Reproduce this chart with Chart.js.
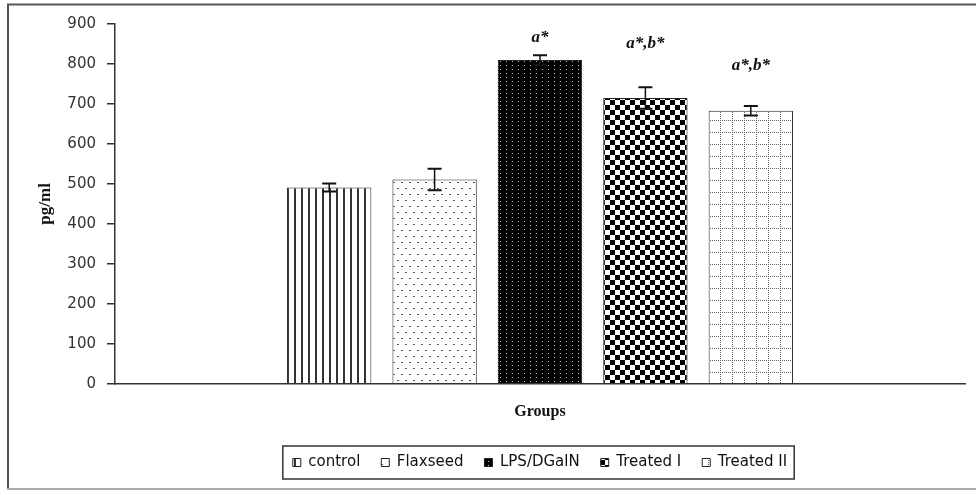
<!DOCTYPE html>
<html>
<head>
<meta charset="utf-8">
<script src="https://cdn.jsdelivr.net/npm/chart.js@4.4.1/dist/chart.umd.min.js"></script>
<style>
  body { margin: 0; background: #fff; }
  #wrap { width: 976px; height: 491px; }
</style>
</head>
<body>
<div id="wrap"><canvas id="chart" width="976" height="491"></canvas></div>
<script>
// data
const groups = ["control", "Flaxseed", "LPS/DGalN", "Treated I", "Treated II"];
const values = [491, 511, 810, 715, 683];
const errors = [10, 27, 12, 27, 12];
const marks = ["", "", "a*", "a*,b*", "a*,b*"];
const markAt = [null, null, 865, 850, 795];
const yTicks = [0, 100, 200, 300, 400, 500, 600, 700, 800, 900];

// fill patterns, one per group
function makePattern(w, h, paint) {
    const c = document.createElement("canvas");
    c.width = w;
    c.height = h;
    const g = c.getContext("2d");
    paint(g, w, h);
    return g.createPattern(c, "repeat");
}

const patterns = [
    // vertical stripes
    makePattern(7, 4, (g) => {
        g.fillStyle = "#fff"; g.fillRect(0, 0, 7, 4);
        g.fillStyle = "#333"; g.fillRect(0, 0, 2, 4);
    }),
    // sparse dots
    makePattern(8, 12, (g) => {
        g.fillStyle = "#fff"; g.fillRect(0, 0, 8, 12);
        g.fillStyle = "#555"; g.fillRect(1, 2, 2, 1); g.fillRect(5, 8, 2, 1);
    }),
    // black with light dots
    makePattern(6, 4, (g) => {
        g.fillStyle = "#000"; g.fillRect(0, 0, 6, 4);
        g.fillStyle = "#bbb"; g.fillRect(2, 1, 1, 1);
    }),
    // checkerboard
    makePattern(10, 10, (g) => {
        g.fillStyle = "#fff"; g.fillRect(0, 0, 10, 10);
        g.fillStyle = "#000"; g.fillRect(0, 0, 5, 5); g.fillRect(5, 5, 5, 5);
    }),
    // dotted grid
    makePattern(12, 12, (g) => {
        g.fillStyle = "#fff"; g.fillRect(0, 0, 12, 12);
        g.fillStyle = "#666";
        for (let i = 0; i < 12; i += 2) {
            g.fillRect(0, i, 1, 1);
            g.fillRect(i, 0, 1, 1);
        }
    })
];

const frame = {
    id: "frame",
    beforeDraw(chart) {
        const ctx = chart.ctx;
        ctx.save();
        ctx.fillStyle = "#fff";
        ctx.fillRect(0, 0, chart.width, chart.height);
        ctx.lineWidth = 2;
        ctx.strokeStyle = "#555";
        ctx.beginPath();
        ctx.moveTo(976, 4.5); ctx.lineTo(8, 4.5); ctx.lineTo(8, 489);
        ctx.stroke();
        ctx.strokeStyle = "#aaa";
        ctx.beginPath();
        ctx.moveTo(7, 489); ctx.lineTo(976, 489);
        ctx.stroke();
        ctx.restore();
    },
    afterDraw(chart) {
        // box round the legend items
        const boxes = chart.legend.legendHitBoxes;
        if (!boxes || !boxes.length) return;
        const left = Math.min(...boxes.map(b => b.left));
        const right = Math.max(...boxes.map(b => b.left + b.width));
        const top = Math.min(...boxes.map(b => b.top));
        const bottom = Math.max(...boxes.map(b => b.top + b.height));
        const ctx = chart.ctx;
        ctx.save();
        ctx.strokeStyle = "#333";
        ctx.lineWidth = 1.5;
        ctx.strokeRect(left - 10, top - 9, right - left + 17, bottom - top + 18);
        ctx.restore();
    }
};

const errorBars = {
    id: "errorBars",
    afterDatasetsDraw(chart) {
        const ctx = chart.ctx;
        const y = chart.scales.y;
        ctx.save();
        ctx.strokeStyle = "#111";
        values.forEach((v, i) => {
            const bar = chart.getDatasetMeta(i).data[0];
            const x = bar.x;
            const hi = y.getPixelForValue(v + errors[i]);
            const lo = y.getPixelForValue(v - errors[i]);
            ctx.lineWidth = 1.5;
            ctx.beginPath();
            ctx.moveTo(x, hi); ctx.lineTo(x, lo);
            ctx.stroke();
            ctx.lineWidth = 2;
            ctx.beginPath();
            ctx.moveTo(x - 7, hi); ctx.lineTo(x + 7, hi);
            ctx.moveTo(x - 7, lo); ctx.lineTo(x + 7, lo);
            ctx.stroke();
            if (marks[i]) {
                ctx.fillStyle = "#111";
                ctx.font = 'bold italic 17px "Liberation Serif"';
                ctx.textAlign = "center";
                ctx.textBaseline = "middle";
                ctx.fillText(marks[i], x, y.getPixelForValue(markAt[i]));
            }
        });
        ctx.restore();
    }
};

new Chart(document.getElementById("chart"), {
    type: "bar",
    data: {
        labels: [""],
        datasets: groups.map((name, i) => ({
            label: name,
            data: [values[i]],
            backgroundColor: patterns[i],
            borderColor: "#222",
            borderWidth: 1,
            categoryPercentage: 0.62,
            barPercentage: 0.8
        }))
    },
    options: {
        responsive: false,
        animation: false,
        layout: { padding: { top: 24, right: 11, left: 33, bottom: 11 } },
        plugins: {
            tooltip: { enabled: false },
            legend: {
                position: "bottom",
                fullSize: false,
                labels: {
                    boxWidth: 8,
                    boxHeight: 8,
                    padding: 21,
                    color: "#111",
                    font: { family: '"DejaVu Sans"', size: 15 }
                }
            }
        },
        scales: {
            x: {
                grid: { display: false },
                border: { color: "#333", width: 1.5 },
                ticks: { display: false },
                title: {
                    display: true,
                    text: "Groups",
                    color: "#111",
                    font: { family: '"Liberation Serif"', size: 16, weight: "bold" },
                    padding: { top: 10, bottom: 13 }
                }
            },
            y: {
                min: 0,
                max: 900,
                afterFit(scale) { scale.width = 82; },
                afterBuildTicks(scale) { scale.ticks = yTicks.map(v => ({ value: v })); },
                grid: { drawOnChartArea: false, tickLength: 8, color: "#333", lineWidth: 1.5 },
                border: { color: "#333", width: 1.5 },
                ticks: {
                    color: "#333",
                    padding: 11,
                    font: { family: '"DejaVu Sans"', size: 15 }
                },
                title: {
                    display: true,
                    text: "pg/ml",
                    color: "#111",
                    font: { family: '"Liberation Serif"', size: 17, weight: "bold" },
                    padding: { top: 2, bottom: 4 }
                }
            }
        }
    },
    plugins: [frame, errorBars]
});
</script>
</body>
</html>
